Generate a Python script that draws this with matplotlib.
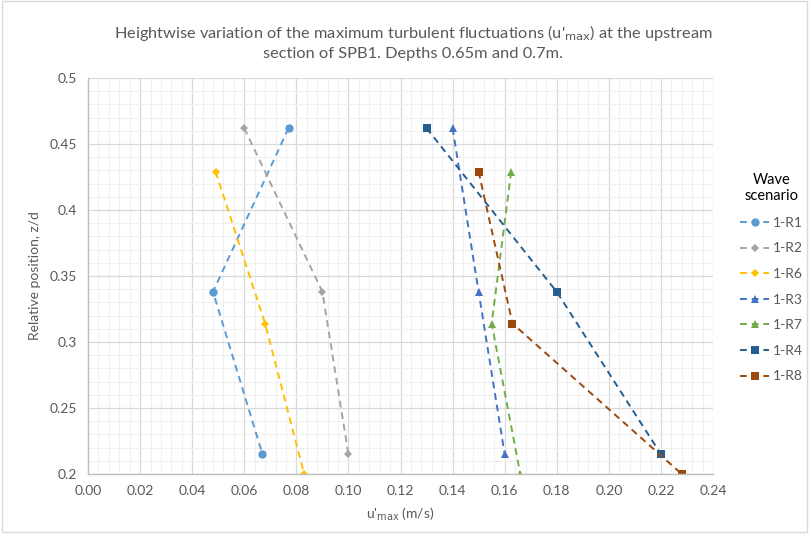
import matplotlib.pyplot as plt
import matplotlib.patches as mpatches
from matplotlib.ticker import MultipleLocator, FormatStrFormatter

plt.rcParams["font.family"] = ["Lato", "DejaVu Sans"]

# --- data ---
series_names = ["1-R1", "1-R2", "1-R6", "1-R3", "1-R7", "1-R4", "1-R8"]
u_r1 = [0.077, 0.048, 0.067]
z_r1 = [0.462, 0.338, 0.215]
u_r2 = [0.060, 0.090, 0.100]
z_r2 = [0.462, 0.338, 0.215]
u_r6 = [0.049, 0.068, 0.083]
z_r6 = [0.429, 0.314, 0.200]
u_r3 = [0.140, 0.150, 0.160]
z_r3 = [0.462, 0.338, 0.215]
u_r7 = [0.1625, 0.155, 0.166]
z_r7 = [0.429, 0.314, 0.200]
u_r4 = [0.130, 0.180, 0.220]
z_r4 = [0.462, 0.338, 0.215]
u_r8 = [0.150, 0.163, 0.228]
z_r8 = [0.429, 0.314, 0.200]

series_u = [u_r1, u_r2, u_r6, u_r3, u_r7, u_r4, u_r8]
series_z = [z_r1, z_r2, z_r6, z_r3, z_r7, z_r4, z_r8]
colors = ["#5B9BD5", "#A5A5A5", "#FFC000", "#4472C4", "#70AD47", "#255E91", "#9E480E"]
markers = ["o", "D", "D", "^", "^", "s", "s"]
msizes = [6, 4.5, 4.5, 6, 6, 6, 6]

text_color = "#595959"

fig = plt.figure(figsize=(8.1, 5.34), dpi=100)
ax = fig.add_axes([88 / 810, 1 - 474 / 534, 625 / 810, 396 / 534])

for name, u, z, c, m, ms in zip(series_names, series_u, series_z, colors, markers, msizes):
    ax.plot(u, z, linestyle=(0, (3.5, 2.5)), linewidth=1.4, color=c,
            marker=m, markersize=ms, markeredgewidth=0, label=name)

ax.set_xlim(0, 0.24)
ax.set_ylim(0.2, 0.5)
ax.xaxis.set_major_locator(MultipleLocator(0.02))
ax.xaxis.set_minor_locator(MultipleLocator(0.004))
ax.yaxis.set_major_locator(MultipleLocator(0.05))
ax.yaxis.set_minor_locator(MultipleLocator(0.01))
ax.xaxis.set_major_formatter(FormatStrFormatter("%.2f"))
ax.yaxis.set_major_formatter(lambda v, p: f"{v:g}")

ax.grid(which="major", color="#D9D9D9", linewidth=0.9)
ax.grid(which="minor", color="#F0F0F0", linewidth=0.8)
ax.set_axisbelow(True)

for side in ["top", "right"]:
    ax.spines[side].set_visible(False)
for side in ["left", "bottom"]:
    ax.spines[side].set_color("#BFBFBF")
    ax.spines[side].set_linewidth(1.0)

ax.tick_params(which="both", length=0, labelsize=10, labelcolor=text_color, pad=8)

ax.set_xlabel("u'$_{\\mathrm{max}}$ (m/s)", fontsize=10, color=text_color, labelpad=6)
ax.set_ylabel("Relative position, z/d", fontsize=10, color=text_color, labelpad=6)

fig.text(413 / 810, 1 - 42 / 534,
         "Heightwise variation of the maximum turbulent fluctuations (u'$_{\\mathrm{max}}$) at the upstream\n"
         "section of SPB1. Depths 0.65m and 0.7m.",
         ha="center", va="center", fontsize=11.8, color=text_color, linespacing=1.4)

leg = ax.legend(loc="upper left", bbox_to_anchor=(740 / 810, 1 - 173 / 534),
                bbox_transform=fig.transFigure, frameon=False, fontsize=10,
                title="Wave\nscenario", title_fontsize=10.5, labelspacing=0.98,
                handlelength=2.1, handletextpad=0.3, borderaxespad=0, borderpad=0)
for t in leg.get_texts():
    t.set_color(text_color)
leg.get_title().set_multialignment("center")

# chart area border
fig.patches.append(mpatches.Rectangle((0.002, 0.004), 0.994, 0.994, transform=fig.transFigure,
                                      fill=False, edgecolor="#D9D9D9", linewidth=1.0))

fig.savefig("out.png", dpi=100)
